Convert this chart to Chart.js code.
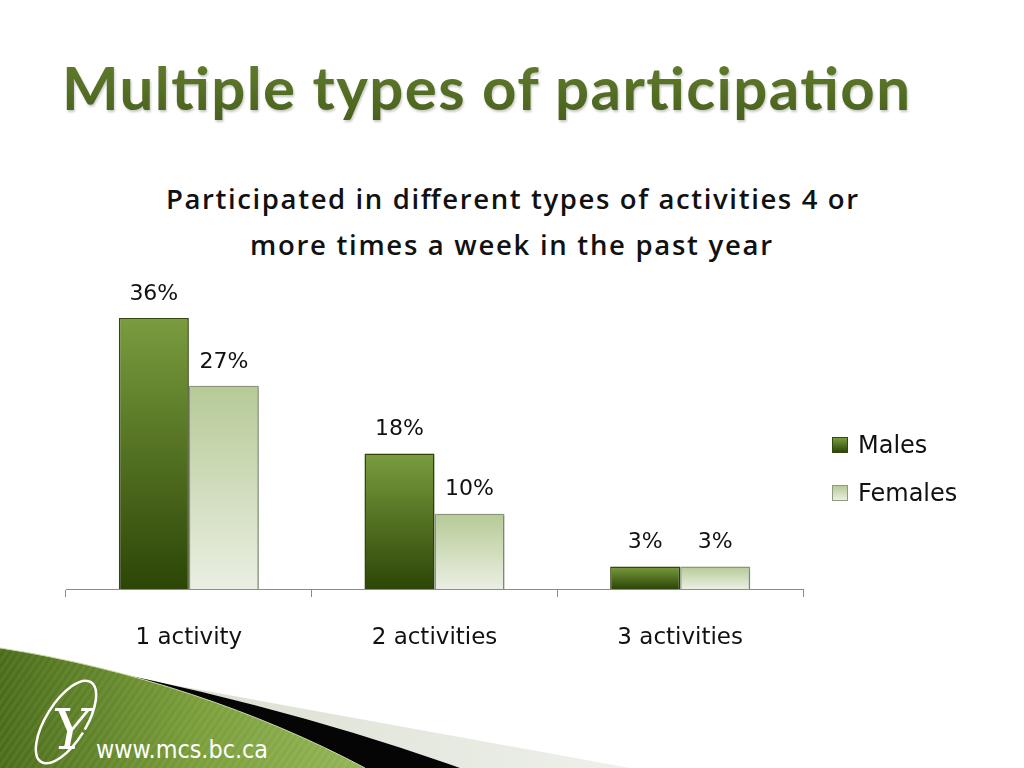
<!DOCTYPE html>
<html>
<head>
<meta charset="utf-8">
<script src="https://cdn.jsdelivr.net/npm/chart.js@4.4.1/dist/chart.umd.min.js"></script>
<style>
  html, body { margin: 0; padding: 0; background: #fff; }
  #slide { position: relative; width: 1024px; height: 768px; overflow: hidden; background: #fff; }
  #deco { position: absolute; left: 0; top: 0; }
  #chartBox { position: absolute; left: 0; top: 0; width: 1024px; height: 768px; }
  #legend { position: absolute; left: 832px; top: 430px; font-family: "DejaVu Sans", sans-serif; font-size: 24px; color: #111; }
  .legend-item { display: flex; align-items: center; height: 30px; margin-bottom: 18px; }
  .legend-box { width: 16px; height: 16px; margin-right: 10px; box-sizing: border-box; }
</style>
</head>
<body>
<div id="slide">
  <svg id="deco" width="1024" height="768" xmlns="http://www.w3.org/2000/svg">
    <defs>
      <linearGradient id="greenFill" x1="0" y1="0" x2="1" y2="0">
        <stop offset="0" stop-color="#4a6c1a"/>
        <stop offset="0.55" stop-color="#7a9e3a"/>
        <stop offset="1" stop-color="#93b556"/>
      </linearGradient>
      <linearGradient id="grayFill" x1="0" y1="0" x2="1" y2="0">
        <stop offset="0" stop-color="#d4dac8"/>
        <stop offset="1" stop-color="#eef0ea"/>
      </linearGradient>
      <pattern id="stripes" width="6" height="6" patternUnits="userSpaceOnUse" patternTransform="rotate(35)">
        <rect width="3" height="6" fill="rgba(255,255,255,0.06)"/>
      </pattern>
      <linearGradient id="titleFill" x1="0" y1="0" x2="0" y2="1">
        <stop offset="0" stop-color="#66802f"/>
        <stop offset="1" stop-color="#47601c"/>
      </linearGradient>
    </defs>

    <!-- slide title -->
    <text x="62" y="110" font-family="Lato, 'Open Sans', sans-serif" font-weight="bold" font-size="60"
          fill="url(#titleFill)" textLength="848" lengthAdjust="spacing"
          style="filter: drop-shadow(1px 2px 1px rgba(0,0,0,0.22));">Multiple types of participation</text>

    <!-- chart title -->
    <text x="166" y="209" font-family="'Open Sans', sans-serif" font-weight="600" font-size="27.5" fill="#111"
          textLength="692" lengthAdjust="spacing">Participated in different types of activities 4 or</text>
    <text x="250" y="255" font-family="'Open Sans', sans-serif" font-weight="600" font-size="27.5" fill="#111"
          textLength="522" lengthAdjust="spacing">more times a week in the past year</text>

    <!-- bottom-left decoration -->
    <path d="M80,668 L630,768 L0,768 Z" fill="url(#grayFill)"/>
    <path d="M40,658 Q270,700 460,768 L0,768 Z" fill="#050505"/>
    <path d="M0,648 C130,668 260,712 365,768 L0,768 Z" fill="url(#greenFill)"/>
    <path d="M0,648 C130,668 260,712 365,768 L0,768 Z" fill="url(#stripes)"/>
    <path d="M0,648 C130,668 260,712 365,768" fill="none" stroke="#c9d8a8" stroke-width="1"/>

    <ellipse cx="66" cy="722" rx="20" ry="47" transform="rotate(32 66 722)" fill="none" stroke="#fff" stroke-width="2.5"
             stroke-dasharray="215 50"/>
    <text x="52" y="749" font-family="'DejaVu Serif', serif" font-style="italic" font-size="56" fill="#fff">Y</text>
    <text x="96" y="758" font-family="'DejaVu Sans Condensed', 'DejaVu Sans', sans-serif" font-size="24" fill="#fff"
          textLength="172" lengthAdjust="spacingAndGlyphs">www.mcs.bc.ca</text>
  </svg>

  <div id="chartBox"><canvas id="participationChart" width="1024" height="768"></canvas></div>
  <div id="legend"></div>
</div>

<script>
// ---- chart data ----
const categories = ['1 activity', '2 activities', '3 activities'];
const seriesNames = ['Males', 'Females'];
const malesValues = [36, 18, 3];
const femalesValues = [27, 10, 3];

// colours per series: [top of bar, bottom of bar, border]
const MALE_COLORS = ['#7a9c3e', '#2c4606', '#34480e'];
const FEMALE_COLORS = ['#b6ca96', '#eaefe3', '#8d9a80'];

// Gradient running from the top of each bar down to the baseline
function barGradient(context, colors) {
    const chart = context.chart;
    const area = chart.chartArea;
    if (!area || context.raw === undefined) return colors[0];
    const top = chart.scales.y.getPixelForValue(context.raw);
    const g = chart.ctx.createLinearGradient(0, top, 0, area.bottom);
    g.addColorStop(0, colors[0]);
    g.addColorStop(1, colors[1]);
    return g;
}

// Soft drop shadow behind the bars
const barShadow = {
    id: 'barShadow',
    beforeDatasetsDraw(chart) {
        const ctx = chart.ctx;
        ctx.save();
        ctx.shadowColor = 'rgba(0,0,0,0.25)';
        ctx.shadowBlur = 3;
        ctx.shadowOffsetX = 1;
        ctx.shadowOffsetY = 1;
    },
    afterDatasetsDraw(chart) {
        chart.ctx.restore();
    }
};

// Draw "xx%" above every bar
const valueLabels = {
    id: 'valueLabels',
    afterDatasetsDraw(chart) {
        const ctx = chart.ctx;
        ctx.save();
        ctx.font = '22px "DejaVu Sans", sans-serif';
        ctx.fillStyle = '#111';
        ctx.textAlign = 'center';
        ctx.textBaseline = 'middle';
        chart.data.datasets.forEach((ds, i) => {
            const meta = chart.getDatasetMeta(i);
            meta.data.forEach((bar, j) => {
                ctx.fillText(ds.data[j] + '%', bar.x, bar.y - 24);
            });
        });
        ctx.restore();
    }
};

function initParticipationChart() {
    const ctx = document.getElementById('participationChart');
    if (!ctx) return;

    return new Chart(ctx.getContext('2d'), {
        type: 'bar',
        data: {
            labels: categories,
            datasets: [
                {
                    label: seriesNames[0],
                    data: malesValues,
                    backgroundColor: (c) => barGradient(c, MALE_COLORS),
                    borderColor: MALE_COLORS[2],
                    borderWidth: 1.5,
                    legendColors: MALE_COLORS
                },
                {
                    label: seriesNames[1],
                    data: femalesValues,
                    backgroundColor: (c) => barGradient(c, FEMALE_COLORS),
                    borderColor: FEMALE_COLORS[2],
                    borderWidth: 1.5,
                    legendColors: FEMALE_COLORS
                }
            ]
        },
        options: {
            responsive: false,
            animation: false,
            categoryPercentage: 0.57,
            barPercentage: 1.0,
            layout: {
                padding: { left: 66, right: 221, top: 288, bottom: 0 }
            },
            plugins: {
                legend: { display: false },
                title: { display: false },
                tooltip: { enabled: false }
            },
            scales: {
                x: {
                    afterFit: function(scale) { scale.height = 768 - 589; },
                    grid: {
                        offset: true,
                        drawOnChartArea: false,
                        tickLength: 8,
                        color: '#8c8c8c'
                    },
                    border: { color: '#8c8c8c', width: 1 },
                    ticks: {
                        color: '#111',
                        padding: 27,
                        font: { family: '"DejaVu Sans", sans-serif', size: 23 }
                    }
                },
                y: {
                    display: false,
                    min: 0,
                    max: 40
                }
            }
        },
        plugins: [barShadow, valueLabels]
    });
}

// Legend built from the chart's own datasets
function buildLegend(chart) {
    const box = document.getElementById('legend');
    chart.data.datasets.forEach(ds => {
        const item = document.createElement('div');
        item.className = 'legend-item';
        const sw = document.createElement('span');
        sw.className = 'legend-box';
        sw.style.background = `linear-gradient(${ds.legendColors[0]}, ${ds.legendColors[1]})`;
        sw.style.border = `1px solid ${ds.legendColors[2]}`;
        const txt = document.createElement('span');
        txt.textContent = ds.label;
        item.appendChild(sw);
        item.appendChild(txt);
        box.appendChild(item);
    });
}

const participationChart = initParticipationChart();
if (participationChart) buildLegend(participationChart);
</script>
</body>
</html>
